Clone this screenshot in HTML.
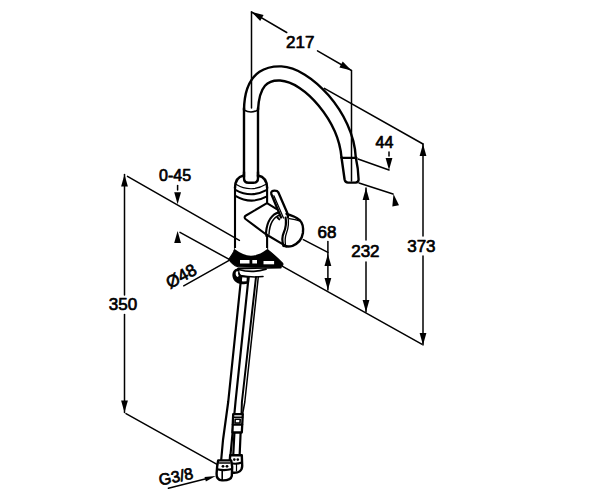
<!DOCTYPE html>
<html><head><meta charset="utf-8"><style>
html,body{margin:0;padding:0;background:#fff;}
svg{display:block;}
text{font-family:"Liberation Sans",sans-serif;fill:#000;stroke:#000;stroke-width:0.7px;}
</style></head><body>
<svg width="600" height="500" viewBox="0 0 600 500">
<rect width="600" height="500" fill="#fff"/>
<g stroke="#000" fill="none" stroke-linecap="round" stroke-linejoin="round">
<line x1="251.5" y1="12" x2="251.5" y2="108" stroke-width="1.5"/>
<line x1="351.5" y1="71" x2="351.5" y2="181" stroke-width="1.5"/>
<line x1="251.5" y1="12" x2="286.7" y2="32.5" stroke-width="1.5"/>
<line x1="317.5" y1="50.8" x2="351.5" y2="70.5" stroke-width="1.5"/>
<polygon points="251.5,12.0 263.6,15.0 260.2,20.9" fill="#000" stroke="none"/>
<polygon points="351.5,70.5 339.4,67.6 342.7,61.6" fill="#000" stroke="none"/>
<text x="286" y="48.3" font-size="17" font-weight="normal">217</text>
<path d="M244.00,110.00 C244.52,66.48 272.32,66.07 281.45,66.37 C310.09,67.32 353.62,112.28 355.80,157.50" stroke-width="2.4" fill="none"/>
<path d="M258.00,110.00 C259.35,85.28 267.84,79.89 280.11,80.56 C304.38,81.88 338.41,120.75 341.50,157.50" stroke-width="2.4" fill="none"/>
<path d="M244,110 Q251,114 258,110" stroke-width="1.6" fill="none"/>
<path d="M341.6,157.8 L356.5,157.8" stroke-width="2.2" fill="none"/>
<path d="M341.5,157.5 L344.6,179.5 Q345.2,182.6 348,182.6 L355.5,182.6 Q358.6,182.4 358.6,179.5 C358.4,172 357.5,165 355.8,157.5" stroke-width="2.4" fill="none"/>
<path d="M244,108 L244,177" stroke-width="2.4" fill="none"/>
<path d="M258,108 L258,177" stroke-width="2.4" fill="none"/>
<line x1="324.4" y1="88.4" x2="423" y2="144" stroke-width="1.5"/>
<line x1="423" y1="144" x2="423" y2="236" stroke-width="1.5"/>
<line x1="423" y1="256" x2="423" y2="345" stroke-width="1.5"/>
<polygon points="423.0,144.0 426.4,156.0 419.6,156.0" fill="#000" stroke="none"/>
<polygon points="423.0,345.0 419.6,333.0 426.4,333.0" fill="#000" stroke="none"/>
<text x="407.2" y="252" font-size="17" font-weight="normal">373</text>
<line x1="281.7" y1="265.8" x2="421.7" y2="344.2" stroke-width="1.5"/>
<line x1="366" y1="188" x2="366" y2="240" stroke-width="1.5"/>
<line x1="366" y1="262" x2="366" y2="312" stroke-width="1.5"/>
<polygon points="366.0,188.0 369.4,200.0 362.6,200.0" fill="#000" stroke="none"/>
<polygon points="366.0,312.0 362.6,300.0 369.4,300.0" fill="#000" stroke="none"/>
<text x="351.2" y="257.4" font-size="17" font-weight="normal">232</text>
<line x1="358" y1="159" x2="389" y2="170" stroke-width="1.5"/>
<polygon points="389.0,170.0 385.6,158.0 392.4,158.0" fill="#000" stroke="none"/>
<line x1="389" y1="152" x2="389" y2="156" stroke-width="1.5"/>
<line x1="359" y1="183" x2="393" y2="194" stroke-width="1.5"/>
<polygon points="393.5,194.0 399.0,205.2 392.3,206.4" fill="#000" stroke="none"/>
<text x="375.6" y="147.5" font-size="16" font-weight="normal">44</text>
<line x1="124.5" y1="174.5" x2="124.5" y2="295" stroke-width="1.5"/>
<line x1="124.5" y1="314.5" x2="124.5" y2="412.4" stroke-width="1.5"/>
<polygon points="124.5,174.5 127.9,186.5 121.1,186.5" fill="#000" stroke="none"/>
<polygon points="124.5,412.4 121.1,400.4 127.9,400.4" fill="#000" stroke="none"/>
<text x="108.8" y="310.2" font-size="17" font-weight="normal">350</text>
<line x1="127.5" y1="176.3" x2="239.4" y2="240.4" stroke-width="1.5"/>
<polygon points="177.6,204.3 174.2,192.3 181.0,192.3" fill="#000" stroke="none"/>
<line x1="177.6" y1="185.6" x2="177.6" y2="190" stroke-width="1.5"/>
<polygon points="177.6,231.0 181.0,243.0 174.2,243.0" fill="#000" stroke="none"/>
<line x1="180" y1="232.3" x2="229.7" y2="259.7" stroke-width="1.5"/>
<text x="159" y="181.4" font-size="16" font-weight="normal">0-45</text>
<line x1="183.7" y1="285.8" x2="228.7" y2="260.7" stroke-width="1.5"/>
<text x="170" y="289" font-size="17" font-weight="normal" transform="rotate(-29 170 289)">Ø48</text>
<line x1="303.3" y1="239.7" x2="327.9" y2="252.3" stroke-width="1.5"/>
<line x1="327.9" y1="241.5" x2="327.9" y2="290" stroke-width="1.5"/>
<polygon points="327.9,254.0 331.3,266.0 324.5,266.0" fill="#000" stroke="none"/>
<polygon points="327.9,290.0 324.5,278.0 331.3,278.0" fill="#000" stroke="none"/>
<text x="317.6" y="237.6" font-size="17" font-weight="normal">68</text>
<line x1="126" y1="413.6" x2="217" y2="464.4" stroke-width="1.5"/>
<text x="160" y="485.5" font-size="16" font-weight="normal" transform="rotate(-11.5 160 485.5)">G3/8</text>
<line x1="168.4" y1="488.3" x2="207" y2="478.5" stroke-width="1.5"/>
<polygon points="215.7,476.0 205.9,481.4 204.5,477.1" fill="#000" stroke="none"/>
<path d="M235,187 L235,251" stroke-width="2.1" fill="none"/>
<path d="M267.1,187 L267.1,203" stroke-width="2.1" fill="none"/>
<path d="M267.1,235.5 L267.1,251" stroke-width="2.1" fill="none"/>
<path d="M235,188 C235,180 239,176.5 243.6,175.5" stroke-width="2.4" fill="none"/>
<path d="M267.1,188 C267.1,180 263,176.5 258,175.5" stroke-width="2.4" fill="none"/>
<path d="M244,172 L244,178 Q244,182.8 248.5,182.8 L253.5,182.8 Q258,182.8 258,178 L258,172" stroke-width="2.4" fill="none"/>
<path d="M235.4,184 Q251,193.5 266.6,184" stroke-width="1.2" fill="none"/>
<path d="M235.4,189.8 Q251,198.5 266.4,190.2" stroke-width="2.1" fill="none"/>
<path d="M235.4,195.8 Q251,205 266.4,196.6" stroke-width="2.1" fill="none"/>
<path d="M267,203.2 L276.3,208.9" stroke-width="2" fill="none"/>
<path d="M267,203.2 L246,215.5 Q243.5,217 245.5,219 L265.5,234 L286.4,246.3" stroke-width="2.1" fill="none"/>
<path d="M278.7,212.4 C273,214 267,220 266,232.9 L266.5,236" stroke-width="2.2" fill="none"/>
<path d="M280,215 C274,217 269.7,222 269,234.2" stroke-width="1.5" fill="none"/>
<path d="M277.4,217.5 L279.3,219.4" stroke-width="2" fill="none"/>
<path d="M286.5,213.9 C291,215 297,218 300,220.5 C303,223.5 303.4,229 302.9,233 C302,239 298,243.5 292.5,245.8 C289,246.9 286,246.6 283.5,245.6" stroke-width="2.4" fill="none"/>
<path d="M289.2,218.6 C293,219 297,219.8 299.5,220.8" stroke-width="1.3" fill="none"/>
<path d="M281,217.5 L271.3,194 C270.6,191.8 272.5,190.6 274.6,190.6 C276.5,190.6 277.8,191.3 278.3,192.3 L287.3,213 L288,217" stroke-width="2.3" fill="none"/>
<path d="M273.9,195.8 L283.5,218" stroke-width="1.3" fill="none"/>
<path d="M285.6,217.6 C286.5,223 285.8,228 283.8,232.5 C282,236.5 281.8,241 283.6,246" stroke-width="2.2" fill="none"/>
<path d="M288,217.2 C289,223 288.5,228 286.5,233 C285,237 284.8,241 285.6,246" stroke-width="1.3" fill="none"/>
<path d="M235,249 C234,252.5 231,256 228.8,259.2 C230.5,262 234,265.5 238,266.8 L256,267.2 L280.5,266.4 C282.5,266 283.5,264.5 282.5,263.2 C278,258.5 273,254 267.2,249.5 Z" stroke-width="1.2" fill="#000"/>
<path d="M234.7,248 L234.7,250.4 Q251,263 267.2,250.4 L267.2,248 Z" fill="#fff" stroke="none"/>
<path d="M234.7,250.4 Q251,263 267.2,250.4" stroke-width="2" fill="none"/>
<rect x="240" y="260" width="9.5" height="3.5" fill="#fff" stroke="none"/>
<rect x="252.3" y="260" width="4.7" height="3.5" fill="#fff" stroke="none"/>
<rect x="263.5" y="261" width="10.6" height="3.3" fill="#fff" stroke="none"/>
<path d="M237.9,268.6 L281,267.6" stroke-width="1.6" fill="none"/>
<path d="M238.5,269.5 Q252,273.5 266,269.2" stroke-width="1.8" fill="none"/>
<path d="M240,275.5 Q252,277.8 263,276.5" stroke-width="1.6" fill="none"/>
<path d="M238,268.2 C233.5,269 231.8,272.5 232.6,277 C233.5,281.5 237.5,284.3 244,284.3 L249,283.6 L249.4,276.5 L241.5,275.5 C239.5,273.5 239,271 239.5,268.5 Z" fill="#000" stroke="none"/>
<path d="M236.2,271.5 C235.2,273 235.5,276 237.5,277 L238.8,276 C238,274.5 237.8,272.5 238.4,271.3 Z" fill="#fff" stroke="none"/>
<path d="M242,277.2 L246.8,277.8 L246.5,281.2 L242.5,281.4 C241,280 241,278.5 242,277.2 Z" fill="#fff" stroke="none"/>
<path d="M241.2,277 L228.2,402 L223,440 L221,462" stroke-width="2.2" fill="none"/>
<path d="M248.6,277 L235.5,402 L231.9,440 L229.8,462" stroke-width="2.2" fill="none"/>
<path d="M256,277 L241.9,402 L241.5,414" stroke-width="2" fill="none"/>
<path d="M258.3,277 L244.8,402 L242.6,414" stroke-width="1.5" fill="none"/>
<path d="M233.2,414.2 L242.8,414.2 L241.8,432.5 L232.4,432.5 Z" fill="#fff" stroke="none"/>
<path d="M233.2,414.2 L242.8,414.2 L241.8,432.5 L232.4,432.5 Z" stroke-width="2.3" fill="none"/>
<path d="M233,417.2 L242.6,417.2" stroke-width="1.5" fill="none"/>
<path d="M232.8,424.6 L242.2,424.6" stroke-width="2.2" fill="none"/>
<path d="M235.2,419.2 L240.2,419.2 L240,423 L235,423 Z" stroke-width="1.6" fill="none"/>
<path d="M234.4,433 L233.2,456 M240.6,433 L239.6,456" stroke-width="2.2" fill="none"/>
<path d="M230.2,455.2 L241.8,455.2 L242.2,466 C242,471 238.5,473 233.5,472.8 C230.5,472.5 229.4,470 229.4,466 Z" fill="#fff" stroke="none"/>
<path d="M230.2,455.2 L241.8,455.2 L242.2,466 C242,471 238.5,473 233.5,472.8 C230.5,472.5 229.4,470 229.4,466 Z" stroke-width="2.4" fill="none"/>
<path d="M230,463 Q236,464.5 242,462.5" stroke-width="2" fill="none"/>
<circle cx="234.3" cy="459.6" r="1.3" fill="#000" stroke="none"/>
<circle cx="237.8" cy="459.6" r="1.3" fill="#000" stroke="none"/>
<path d="M236.5,464 L236.5,471" stroke-width="1.2" fill="none"/>
<path d="M218.2,460.4 L231.2,460.4 L232.2,467 L231.8,476 C231,479.8 227,480.6 222,480.4 C218.2,480.2 216.4,477.5 216.6,473.5 L217.2,466 Z" fill="#fff" stroke="none"/>
<path d="M218.2,460.4 L231.2,460.4 L232.2,467 L231.8,476 C231,479.8 227,480.6 222,480.4 C218.2,480.2 216.4,477.5 216.6,473.5 L217.2,466 Z" stroke-width="2.4" fill="none"/>
<path d="M217.2,469.2 Q224,471 232,469" stroke-width="2.2" fill="none"/>
<path d="M219.5,463 L230,463" stroke-width="1.4" fill="none"/>
<circle cx="223" cy="466.3" r="1.4" fill="#000" stroke="none"/>
<circle cx="227" cy="466.3" r="1.4" fill="#000" stroke="none"/>
<path d="M222.2,470.5 L222.2,480" stroke-width="1.6" fill="none"/>
</g>
</svg>
</body></html>
